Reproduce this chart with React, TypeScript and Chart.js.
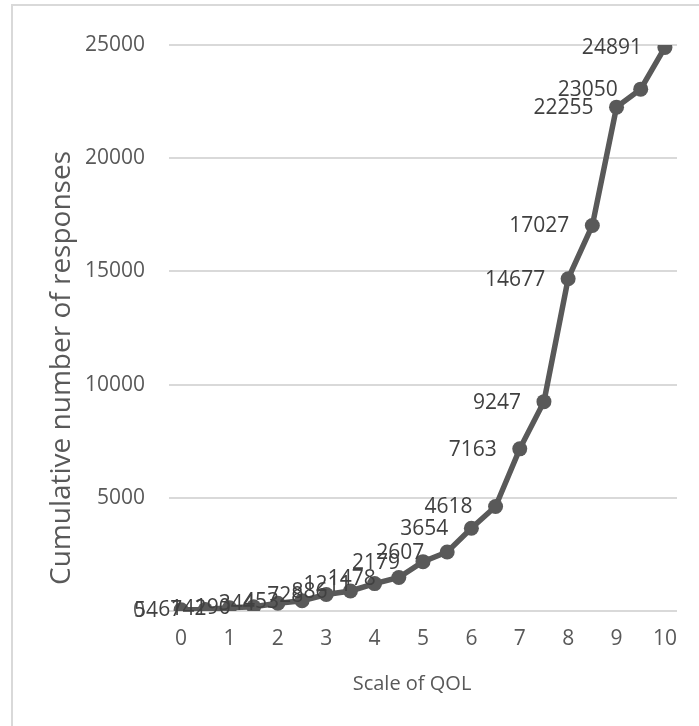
import React, { useEffect, useRef } from "react";
import { Chart, registerables } from "chart.js";

Chart.register(...registerables);

const categories = ["0", "0.5", "1", "1.5", "2", "2.5", "3", "3.5", "4", "4.5", "5", "5.5", "6", "6.5", "7", "7.5", "8", "8.5", "9", "9.5", "10"];
const cumulative = [54, 67, 142, 190, 344, 453, 728, 886, 1211, 1478, 2179, 2607, 3654, 4618, 7163, 9247, 14677, 17027, 22255, 23050, 24891];
const yTitle = "Cumulative number of responses";
const xTitle = "Scale of QOL";

const FONT = "'Open Sans', sans-serif";
const FS = 21;
const GRAY = "#595959";
const LABEL = "#404040";

const extrasPlugin = {
  id: "extras",
  beforeDraw(chart: any) {
    const ctx = chart.ctx;
    ctx.save();
    ctx.fillStyle = "#ffffff";
    ctx.fillRect(0, 0, chart.width, chart.height);
    ctx.strokeStyle = "#d9d9d9";
    ctx.lineWidth = 2;
    ctx.strokeRect(12, 5, chart.width + 20, chart.height + 20);
    ctx.restore();
  },
  afterDraw(chart: any) {
    const ctx = chart.ctx;
    ctx.save();
    ctx.font = `${FS}px ${FONT}`;
    ctx.fillStyle = LABEL;
    ctx.textAlign = "right";
    ctx.textBaseline = "middle";
    const meta = chart.getDatasetMeta(0);
    meta.data.forEach((pt: any, i: number) => {
      ctx.fillText(String(cumulative[i]), pt.x - 23, pt.y + 1);
    });
    ctx.fillStyle = GRAY;
    ctx.textAlign = "center";
    ctx.font = `20px ${FONT}`;
    ctx.fillText(xTitle, 412, 684);
    ctx.font = `28px ${FONT}`;
    ctx.translate(62, 368);
    ctx.rotate(-Math.PI / 2);
    ctx.fillText(yTitle, 0, 0);
    ctx.restore();
  },
};

export default function App() {
  const ref = useRef<HTMLCanvasElement>(null);
  useEffect(() => {
    if (!ref.current) return;
    const chart = new Chart(ref.current, {
      type: "line",
      data: {
        labels: categories,
        datasets: [
          {
            data: cumulative,
            borderColor: GRAY,
            backgroundColor: GRAY,
            borderWidth: 5.5,
            pointRadius: 7.5,
            pointBackgroundColor: GRAY,
            pointBorderColor: GRAY,
            pointBorderWidth: 0,
            tension: 0,
          },
        ],
      },
      options: {
        animation: false,
        responsive: false,
        maintainAspectRatio: false,
        layout: { padding: { left: 0, top: 45, right: 22, bottom: 0 } },
        plugins: { legend: { display: false }, tooltip: { enabled: false } },
        scales: {
          x: {
            type: "category",
            offset: true,
            grid: { display: false, drawTicks: false },
            border: { display: false },
            afterFit: (s: any) => {
              s.height = 115;
            },
            ticks: {
              autoSkip: false,
              maxRotation: 0,
              padding: 15,
              color: GRAY,
              font: { family: FONT, size: FS },
              callback: (_v: any, i: number) => (Number(categories[i]) % 1 === 0 ? categories[i] : ""),
            },
          },
          y: {
            min: 0,
            max: 25000,
            afterFit: (s: any) => {
              s.width = 169;
            },
            grid: { color: "#d9d9d9", lineWidth: 2, drawTicks: false },
            border: { display: false },
            ticks: {
              stepSize: 5000,
              padding: 24,
              color: GRAY,
              font: { family: FONT, size: FS },
              callback: (v: any) => String(v),
            },
          },
        },
      },
      plugins: [extrasPlugin],
    });
    return () => chart.destroy();
  }, []);
  return (
    <div style={{ position: "absolute", left: 0, top: 0, width: 699, height: 726 }}>
      <canvas ref={ref} width={699} height={726} style={{ width: 699, height: 726, display: "block" }} />
    </div>
  );
}
